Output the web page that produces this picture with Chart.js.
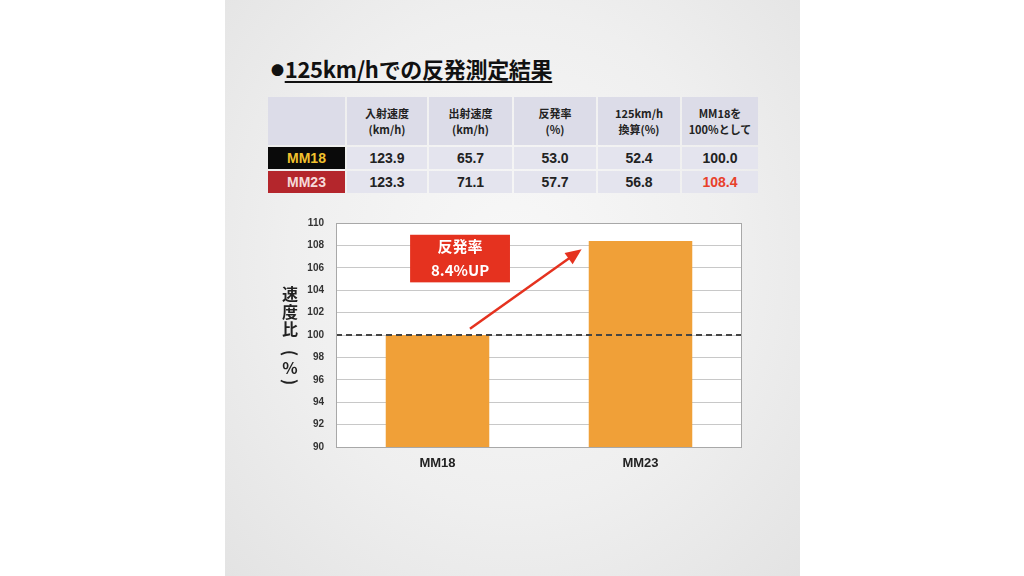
<!DOCTYPE html>
<html>
<head>
<meta charset="utf-8">
<script src="https://cdn.jsdelivr.net/npm/chart.js"></script>
<style>
  html, body { margin: 0; padding: 0; background: #fff; }
  body { width: 1024px; height: 576px; position: relative; overflow: hidden;
         font-family: "Noto Sans CJK JP", "Liberation Sans", sans-serif; }
  #panel { position: absolute; left: 225px; top: 0; width: 575px; height: 576px;
           background: radial-gradient(ellipse at 50% 45%, #f8f8f8 0%, #efefef 55%, #e3e3e3 100%); }
  #title { position: absolute; left: 271px; top: 52px; font-size: 22px; font-weight: bold;
           color: #111; white-space: nowrap; letter-spacing: -0.3px; }
  #title .dot { font-size: 13px; vertical-align: 3px; margin-right: 1px; }
  #title .txt { text-decoration: underline; text-decoration-thickness: 2px; text-underline-offset: 3px; }
  #result-table { position: absolute; left: 266px; top: 95px; border-collapse: separate;
                  border-spacing: 2px; font-family: "Liberation Sans", "Noto Sans CJK JP", sans-serif; }
  #result-table td { text-align: center; font-weight: bold; color: #222; padding: 0; }
  #result-table tr.head td { background: #dcdce8; height: 48px; font-size: 11px; line-height: 16px;
                             font-family: "Noto Sans CJK JP", sans-serif; }
  #result-table tr.row td { background: #e4e4ee; height: 22px; font-size: 14px; }
  #result-table td.mm18 { background: #0a0a0a !important; color: #f2c12e !important; }
  #result-table td.mm23 { background: #b4262c !important; color: #f6dada !important; }
  #result-table td.up { color: #e8402a; }
  #chart-box { position: absolute; left: 280px; top: 205px; width: 480px; height: 270px; }
</style>
</head>
<body>
<div id="panel"></div>
<div id="title"><span class="dot">●</span><span class="txt">125km/hでの反発測定結果</span></div>
<table id="result-table"></table>
<div id="chart-box"><canvas id="ratioChart"></canvas></div>

<script>
// table data
const tableHeaders = ['入射速度<br>(km/h)', '出射速度<br>(km/h)', '反発率<br>(%)', '125km/h<br>換算(%)', 'MM18を<br>100%として'];
const columnWidths = [77, 80, 83, 82, 82, 76];
const mm18Row = ['123.9', '65.7', '53.0', '52.4', '100.0'];
const mm23Row = ['123.3', '71.1', '57.7', '56.8', '108.4'];

// chart data
const categories = ['MM18', 'MM23'];
const speedRatio = [100, 108.4];
const yMin = 90;
const yMax = 110;
const yStep = 2;
const baseline = 100;
const yTitleChars = ['速', '度', '比', '(', '%', ')'];
const calloutLines = ['反発率', '8.4%UP'];

function buildTable() {
  const table = document.getElementById('result-table');
  let html = '<tr class="head"><td style="width:' + columnWidths[0] + 'px"></td>';
  tableHeaders.forEach((h, i) => {
    html += '<td style="width:' + columnWidths[i + 1] + 'px">' + h + '</td>';
  });
  html += '</tr><tr class="row"><td class="mm18">MM18</td>';
  mm18Row.forEach(v => { html += '<td>' + v + '</td>'; });
  html += '</tr><tr class="row"><td class="mm23">MM23</td>';
  mm23Row.forEach((v, i) => {
    html += '<td' + (i === mm23Row.length - 1 ? ' class="up"' : '') + '>' + v + '</td>';
  });
  html += '</tr>';
  table.innerHTML = html;
}

// white plot background + frame
const plotFrame = {
  id: 'plotFrame',
  beforeDraw(chart) {
    const a = chart.chartArea;
    const ctx = chart.ctx;
    ctx.save();
    ctx.fillStyle = '#ffffff';
    ctx.fillRect(a.left, a.top, a.right - a.left, a.bottom - a.top);
    ctx.restore();
  },
  afterDraw(chart) {
    const a = chart.chartArea;
    const ctx = chart.ctx;
    ctx.save();
    ctx.strokeStyle = '#a8a8a8';
    ctx.lineWidth = 1;
    ctx.strokeRect(a.left + 0.5, a.top + 0.5, a.right - a.left - 1, a.bottom - a.top);
    ctx.restore();
  }
};

// dashed 100% line, callout and arrow
const callout = {
  id: 'callout',
  afterDatasetsDraw(chart) {
    const ctx = chart.ctx;
    const x = chart.scales.x;
    const y = chart.scales.y;
    const a = chart.chartArea;

    ctx.save();
    // baseline
    const yb = y.getPixelForValue(baseline);
    ctx.strokeStyle = '#444';
    ctx.lineWidth = 2;
    ctx.setLineDash([6, 4]);
    ctx.beginPath();
    ctx.moveTo(a.left, yb);
    ctx.lineTo(a.right, yb);
    ctx.stroke();
    ctx.setLineDash([]);

    // red box
    const bx1 = x.getPixelForValue(-0.135);
    const bx2 = x.getPixelForValue(0.357);
    const by1 = y.getPixelForValue(108.95);
    const by2 = y.getPixelForValue(104.7);
    ctx.fillStyle = '#e5321f';
    ctx.fillRect(bx1, by1, bx2 - bx1, by2 - by1);
    ctx.fillStyle = '#ffffff';
    ctx.textAlign = 'center';
    ctx.textBaseline = 'middle';
    ctx.font = 'bold 15px "Noto Sans CJK JP", sans-serif';
    const cx = (bx1 + bx2) / 2;
    ctx.fillText(calloutLines[0], cx, by1 + 12);
    ctx.fillText(calloutLines[1], cx, by1 + 36);

    // arrow
    const ax1 = x.getPixelForValue(0.16), ay1 = y.getPixelForValue(100.55);
    const ax2 = x.getPixelForValue(0.71), ay2 = y.getPixelForValue(107.65);
    const ang = Math.atan2(ay2 - ay1, ax2 - ax1);
    ctx.strokeStyle = '#e5321f';
    ctx.lineWidth = 2.5;
    ctx.beginPath();
    ctx.moveTo(ax1, ay1);
    ctx.lineTo(ax2 - 8 * Math.cos(ang), ay2 - 8 * Math.sin(ang));
    ctx.stroke();
    ctx.fillStyle = '#e5321f';
    ctx.beginPath();
    ctx.moveTo(ax2, ay2);
    ctx.lineTo(ax2 - 16 * Math.cos(ang) + 7 * Math.sin(ang), ay2 - 16 * Math.sin(ang) - 7 * Math.cos(ang));
    ctx.lineTo(ax2 - 16 * Math.cos(ang) - 7 * Math.sin(ang), ay2 - 16 * Math.sin(ang) + 7 * Math.cos(ang));
    ctx.closePath();
    ctx.fill();
    ctx.restore();
  },
  afterDraw(chart) {
    // vertical axis title, one character per line; brackets turned upright-vertical
    const ctx = chart.ctx;
    const y = chart.scales.y;
    ctx.save();
    ctx.fillStyle = '#222';
    ctx.textAlign = 'center';
    ctx.textBaseline = 'middle';
    const startY = y.getPixelForValue(103.66);
    const gaps = [0, 18, 35, 59, 74, 88];
    yTitleChars.forEach((c, i) => {
      const cy = startY + gaps[i];
      if (c === '(' || c === ')') {
        ctx.save();
        ctx.font = 'bold 17px "Noto Sans CJK JP", sans-serif';
        ctx.translate(10, cy);
        ctx.rotate(Math.PI / 2);
        ctx.fillText(c, 0, 0);
        ctx.restore();
      } else {
        ctx.font = 'bold 16px "Noto Sans CJK JP", sans-serif';
        ctx.fillText(c, 10, cy);
      }
    });
    ctx.restore();
  }
};

document.addEventListener('DOMContentLoaded', function() {
  buildTable();

  const ctx = document.getElementById('ratioChart').getContext('2d');
  new Chart(ctx, {
    type: 'bar',
    data: {
      labels: categories,
      datasets: [{
        data: speedRatio,
        backgroundColor: '#f0a038',
        borderWidth: 0,
        barPercentage: 0.51,
        categoryPercentage: 1.0
      }]
    },
    options: {
      responsive: true,
      maintainAspectRatio: false,
      animation: false,
      layout: { padding: { top: 5, right: 18, left: 0, bottom: 0 } },
      plugins: {
        legend: { display: false },
        tooltip: { enabled: false }
      },
      scales: {
        x: {
          grid: { display: false },
          border: { display: false },
          ticks: {
            color: '#222',
            padding: 1,
            font: { family: 'Liberation Sans', size: 13, weight: 'bold' }
          },
          afterFit(scale) { scale.height = 28; }
        },
        y: {
          min: yMin,
          max: yMax,
          grid: { color: '#c8c8c8', lineWidth: 1, drawTicks: false },
          border: { display: false },
          ticks: {
            stepSize: yStep,
            color: '#333',
            padding: 12,
            font: { family: 'Liberation Sans', size: 10, weight: 'bold' }
          },
          afterFit(scale) { scale.width = 56; }
        }
      }
    },
    plugins: [plotFrame, callout]
  });
});
</script>
</body>
</html>
